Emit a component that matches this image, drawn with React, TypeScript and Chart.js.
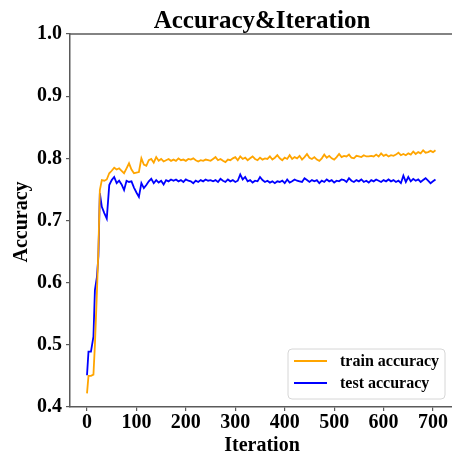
import React, { useEffect, useRef } from "react";
import { Chart, registerables } from "chart.js";

Chart.register(...registerables);

const TITLE = "Accuracy&Iteration";
const X_TITLE = "Iteration";
const Y_TITLE = "Accuracy";
const SERIES_LABELS = ["train accuracy", "test accuracy"];
const X_TICKS = [0, 100, 200, 300, 400, 500, 600, 700];
const Y_TICKS = [0.4, 0.5, 0.6, 0.7, 0.8, 0.9, 1.0];

const iterations = [
  0, 3, 8, 13, 16, 20, 23, 26, 30, 35, 40, 45, 50,
  55, 60, 65, 70, 75, 80, 85, 90, 95, 100,
  105, 110, 115, 120, 125, 130, 135, 140, 145, 150,
  155, 160, 165, 170, 175, 180, 185, 190, 195, 200,
  205, 210, 215, 220, 225, 230, 235, 240, 245, 250,
  255, 260, 265, 270, 275, 280, 285, 290, 295, 300,
  305, 310, 315, 320, 325, 330, 335, 340, 345, 350,
  355, 360, 365, 370, 375, 380, 385, 390, 395, 400,
  405, 410, 415, 420, 425, 430, 435, 440, 445, 450,
  455, 460, 465, 470, 475, 480, 485, 490, 495, 500,
  505, 510, 515, 520, 525, 530, 535, 540, 545, 550,
  555, 560, 565, 570, 575, 580, 585, 590, 595, 600,
  605, 610, 615, 620, 625, 630, 635, 640, 645, 650,
  655, 660, 665, 670, 675, 680, 685, 690, 695, 700,
  705,
];

const trainAccuracy = [
  0.422, 0.450, 0.450, 0.452, 0.500, 0.583, 0.652, 0.749, 0.765, 0.764, 0.766, 0.776, 0.780,
  0.785, 0.782, 0.784, 0.780, 0.776, 0.784, 0.792, 0.782, 0.776, 0.777,
  0.778, 0.800, 0.790, 0.788, 0.797, 0.799, 0.793, 0.802, 0.796, 0.799,
  0.795, 0.797, 0.799, 0.796, 0.798, 0.796, 0.800, 0.797, 0.798, 0.796,
  0.799, 0.798, 0.800, 0.797, 0.795, 0.797, 0.796, 0.798, 0.797, 0.796,
  0.799, 0.802, 0.797, 0.799, 0.796, 0.794, 0.798, 0.797, 0.800, 0.802,
  0.797, 0.803, 0.799, 0.801, 0.797, 0.800, 0.803, 0.799, 0.797, 0.801,
  0.798, 0.800, 0.799, 0.803, 0.798, 0.801, 0.805, 0.800, 0.797, 0.801,
  0.799, 0.805, 0.799, 0.802, 0.800, 0.804, 0.798, 0.802, 0.807, 0.801,
  0.799, 0.802, 0.798, 0.796, 0.800, 0.806, 0.801, 0.804, 0.800, 0.798,
  0.802, 0.807, 0.802, 0.804, 0.803, 0.806, 0.801, 0.800, 0.804, 0.803,
  0.802, 0.805, 0.803, 0.803, 0.804, 0.803, 0.806, 0.803, 0.808, 0.804,
  0.806, 0.803, 0.805, 0.804, 0.806, 0.809, 0.805, 0.807, 0.805, 0.808,
  0.806, 0.811, 0.807, 0.810, 0.808, 0.813, 0.809, 0.810, 0.812, 0.810,
  0.813,
];

const testAccuracy = [
  0.451, 0.489, 0.489, 0.513, 0.588, 0.609, 0.642, 0.744, 0.722, 0.712, 0.703, 0.757, 0.765,
  0.770, 0.760, 0.764, 0.758, 0.749, 0.764, 0.762, 0.763, 0.753, 0.745,
  0.738, 0.760, 0.752, 0.757, 0.763, 0.767, 0.760, 0.765, 0.761, 0.764,
  0.758, 0.765, 0.763, 0.766, 0.764, 0.766, 0.763, 0.765, 0.762, 0.766,
  0.764, 0.763, 0.760, 0.764, 0.762, 0.765, 0.763, 0.766, 0.764, 0.765,
  0.763, 0.765, 0.762, 0.767, 0.764, 0.762, 0.766, 0.763, 0.765, 0.762,
  0.764, 0.774, 0.766, 0.770, 0.763, 0.765, 0.761, 0.764, 0.763, 0.770,
  0.765, 0.762, 0.764, 0.761, 0.763, 0.760, 0.763, 0.762, 0.764, 0.760,
  0.766, 0.761, 0.763, 0.766, 0.764, 0.763, 0.762, 0.768, 0.765, 0.762,
  0.765, 0.763, 0.765, 0.760, 0.764, 0.762, 0.766, 0.763, 0.765, 0.761,
  0.764, 0.763, 0.766, 0.765, 0.762, 0.768, 0.764, 0.762, 0.765, 0.763,
  0.766, 0.762, 0.764, 0.761, 0.765, 0.763, 0.766, 0.764, 0.762, 0.765,
  0.763, 0.766, 0.763, 0.765, 0.762, 0.764, 0.760, 0.772, 0.762, 0.770,
  0.763, 0.767, 0.764, 0.766, 0.762, 0.765, 0.768, 0.764, 0.760, 0.763,
  0.766,
];

const SERIF = "'Liberation Serif', 'Times New Roman', serif";
const SPINE = "#5a5a5a";

const decorPlugin = {
  id: "decor",
  afterDraw(chart: any) {
    const { ctx, chartArea } = chart;
    const { left, right, top } = chartArea;
    ctx.save();
    // top spine
    ctx.strokeStyle = SPINE;
    ctx.lineWidth = 1.5;
    ctx.beginPath();
    ctx.moveTo(left - 0.75, top);
    ctx.lineTo(right, top);
    ctx.stroke();

    ctx.fillStyle = "#000";
    // title
    ctx.font = `bold 25px ${SERIF}`;
    ctx.textAlign = "center";
    ctx.textBaseline = "alphabetic";
    ctx.fillText(TITLE, 262, 28);
    // x title
    ctx.font = `bold 20px ${SERIF}`;
    ctx.fillText(X_TITLE, 262, 451);
    // y title
    ctx.save();
    ctx.translate(22, 222);
    ctx.rotate(-Math.PI / 2);
    ctx.textBaseline = "middle";
    ctx.fillText(Y_TITLE, 0, 0);
    ctx.restore();

    // legend
    const bx = 288, by = 349, bw = 157, bh = 50, r = 4;
    ctx.beginPath();
    ctx.moveTo(bx + r, by);
    ctx.lineTo(bx + bw - r, by);
    ctx.quadraticCurveTo(bx + bw, by, bx + bw, by + r);
    ctx.lineTo(bx + bw, by + bh - r);
    ctx.quadraticCurveTo(bx + bw, by + bh, bx + bw - r, by + bh);
    ctx.lineTo(bx + r, by + bh);
    ctx.quadraticCurveTo(bx, by + bh, bx, by + bh - r);
    ctx.lineTo(bx, by + r);
    ctx.quadraticCurveTo(bx, by, bx + r, by);
    ctx.closePath();
    ctx.fillStyle = "rgba(255,255,255,0.8)";
    ctx.fill();
    ctx.strokeStyle = "#d6d6d6";
    ctx.lineWidth = 1;
    ctx.stroke();

    const ys = [361, 383];
    chart.data.datasets.forEach((ds: any, i: number) => {
      ctx.strokeStyle = ds.borderColor;
      ctx.lineWidth = 1.8;
      ctx.beginPath();
      ctx.moveTo(294, ys[i]);
      ctx.lineTo(327, ys[i]);
      ctx.stroke();
      ctx.fillStyle = "#000";
      ctx.font = `bold 16px ${SERIF}`;
      ctx.textAlign = "left";
      ctx.textBaseline = "middle";
      ctx.fillText(ds.label, 340, ys[i] + 1);
    });
    ctx.restore();
  },
};

export default function App() {
  const ref = useRef<HTMLCanvasElement>(null);

  useEffect(() => {
    if (!ref.current) return;
    const chart = new Chart(ref.current, {
      type: "line",
      data: {
        datasets: [
          {
            label: SERIES_LABELS[0],
            data: iterations.map((x, i) => ({ x, y: trainAccuracy[i] })),
            borderColor: "#FFA500",
            borderWidth: 1.8,
            pointRadius: 0,
            tension: 0,
          },
          {
            label: SERIES_LABELS[1],
            data: iterations.map((x, i) => ({ x, y: testAccuracy[i] })),
            borderColor: "#0000FF",
            borderWidth: 1.8,
            pointRadius: 0,
            tension: 0,
          },
        ],
      },
      options: {
        animation: false,
        responsive: false,
        devicePixelRatio: 1,
        layout: { padding: { top: 34, left: 0, right: 0, bottom: 0 } },
        plugins: {
          legend: { display: false },
          title: { display: false },
          tooltip: { enabled: false },
        },
        scales: {
          x: {
            type: "linear",
            min: -34.4,
            max: 738.4,
            afterFit: (s: any) => {
              s.height = 50;
            },
            afterBuildTicks: (s: any) => {
              s.ticks = X_TICKS.map((v) => ({ value: v }));
            },
            ticks: {
              color: "#000",
              font: { family: SERIF, size: 20, weight: "bold" },
              padding: 0,
              maxRotation: 0,
              callback: (v: any) => String(v),
            },
            grid: {
              drawOnChartArea: false,
              drawTicks: true,
              tickLength: 4,
              color: SPINE,
              lineWidth: 1.2,
            },
            border: { display: true, color: SPINE, width: 1.5 },
          },
          y: {
            type: "linear",
            min: 0.4,
            max: 1.0,
            afterFit: (s: any) => {
              s.width = 70;
            },
            afterBuildTicks: (s: any) => {
              s.ticks = Y_TICKS.map((v) => ({ value: v }));
            },
            ticks: {
              color: "#000",
              font: { family: SERIF, size: 20, weight: "bold" },
              padding: 4,
              callback: (v: any) => Number(v).toFixed(1),
            },
            grid: {
              drawOnChartArea: false,
              drawTicks: true,
              tickLength: 4,
              color: SPINE,
              lineWidth: 1.2,
            },
            border: { display: true, color: SPINE, width: 1.5 },
          },
        },
      },
      plugins: [decorPlugin],
    });
    return () => chart.destroy();
  }, []);

  return (
    <div style={{ position: "absolute", left: 0, top: 0, width: 452, height: 457, background: "#fff" }}>
      <canvas ref={ref} width={452} height={457} style={{ display: "block" }} />
    </div>
  );
}
